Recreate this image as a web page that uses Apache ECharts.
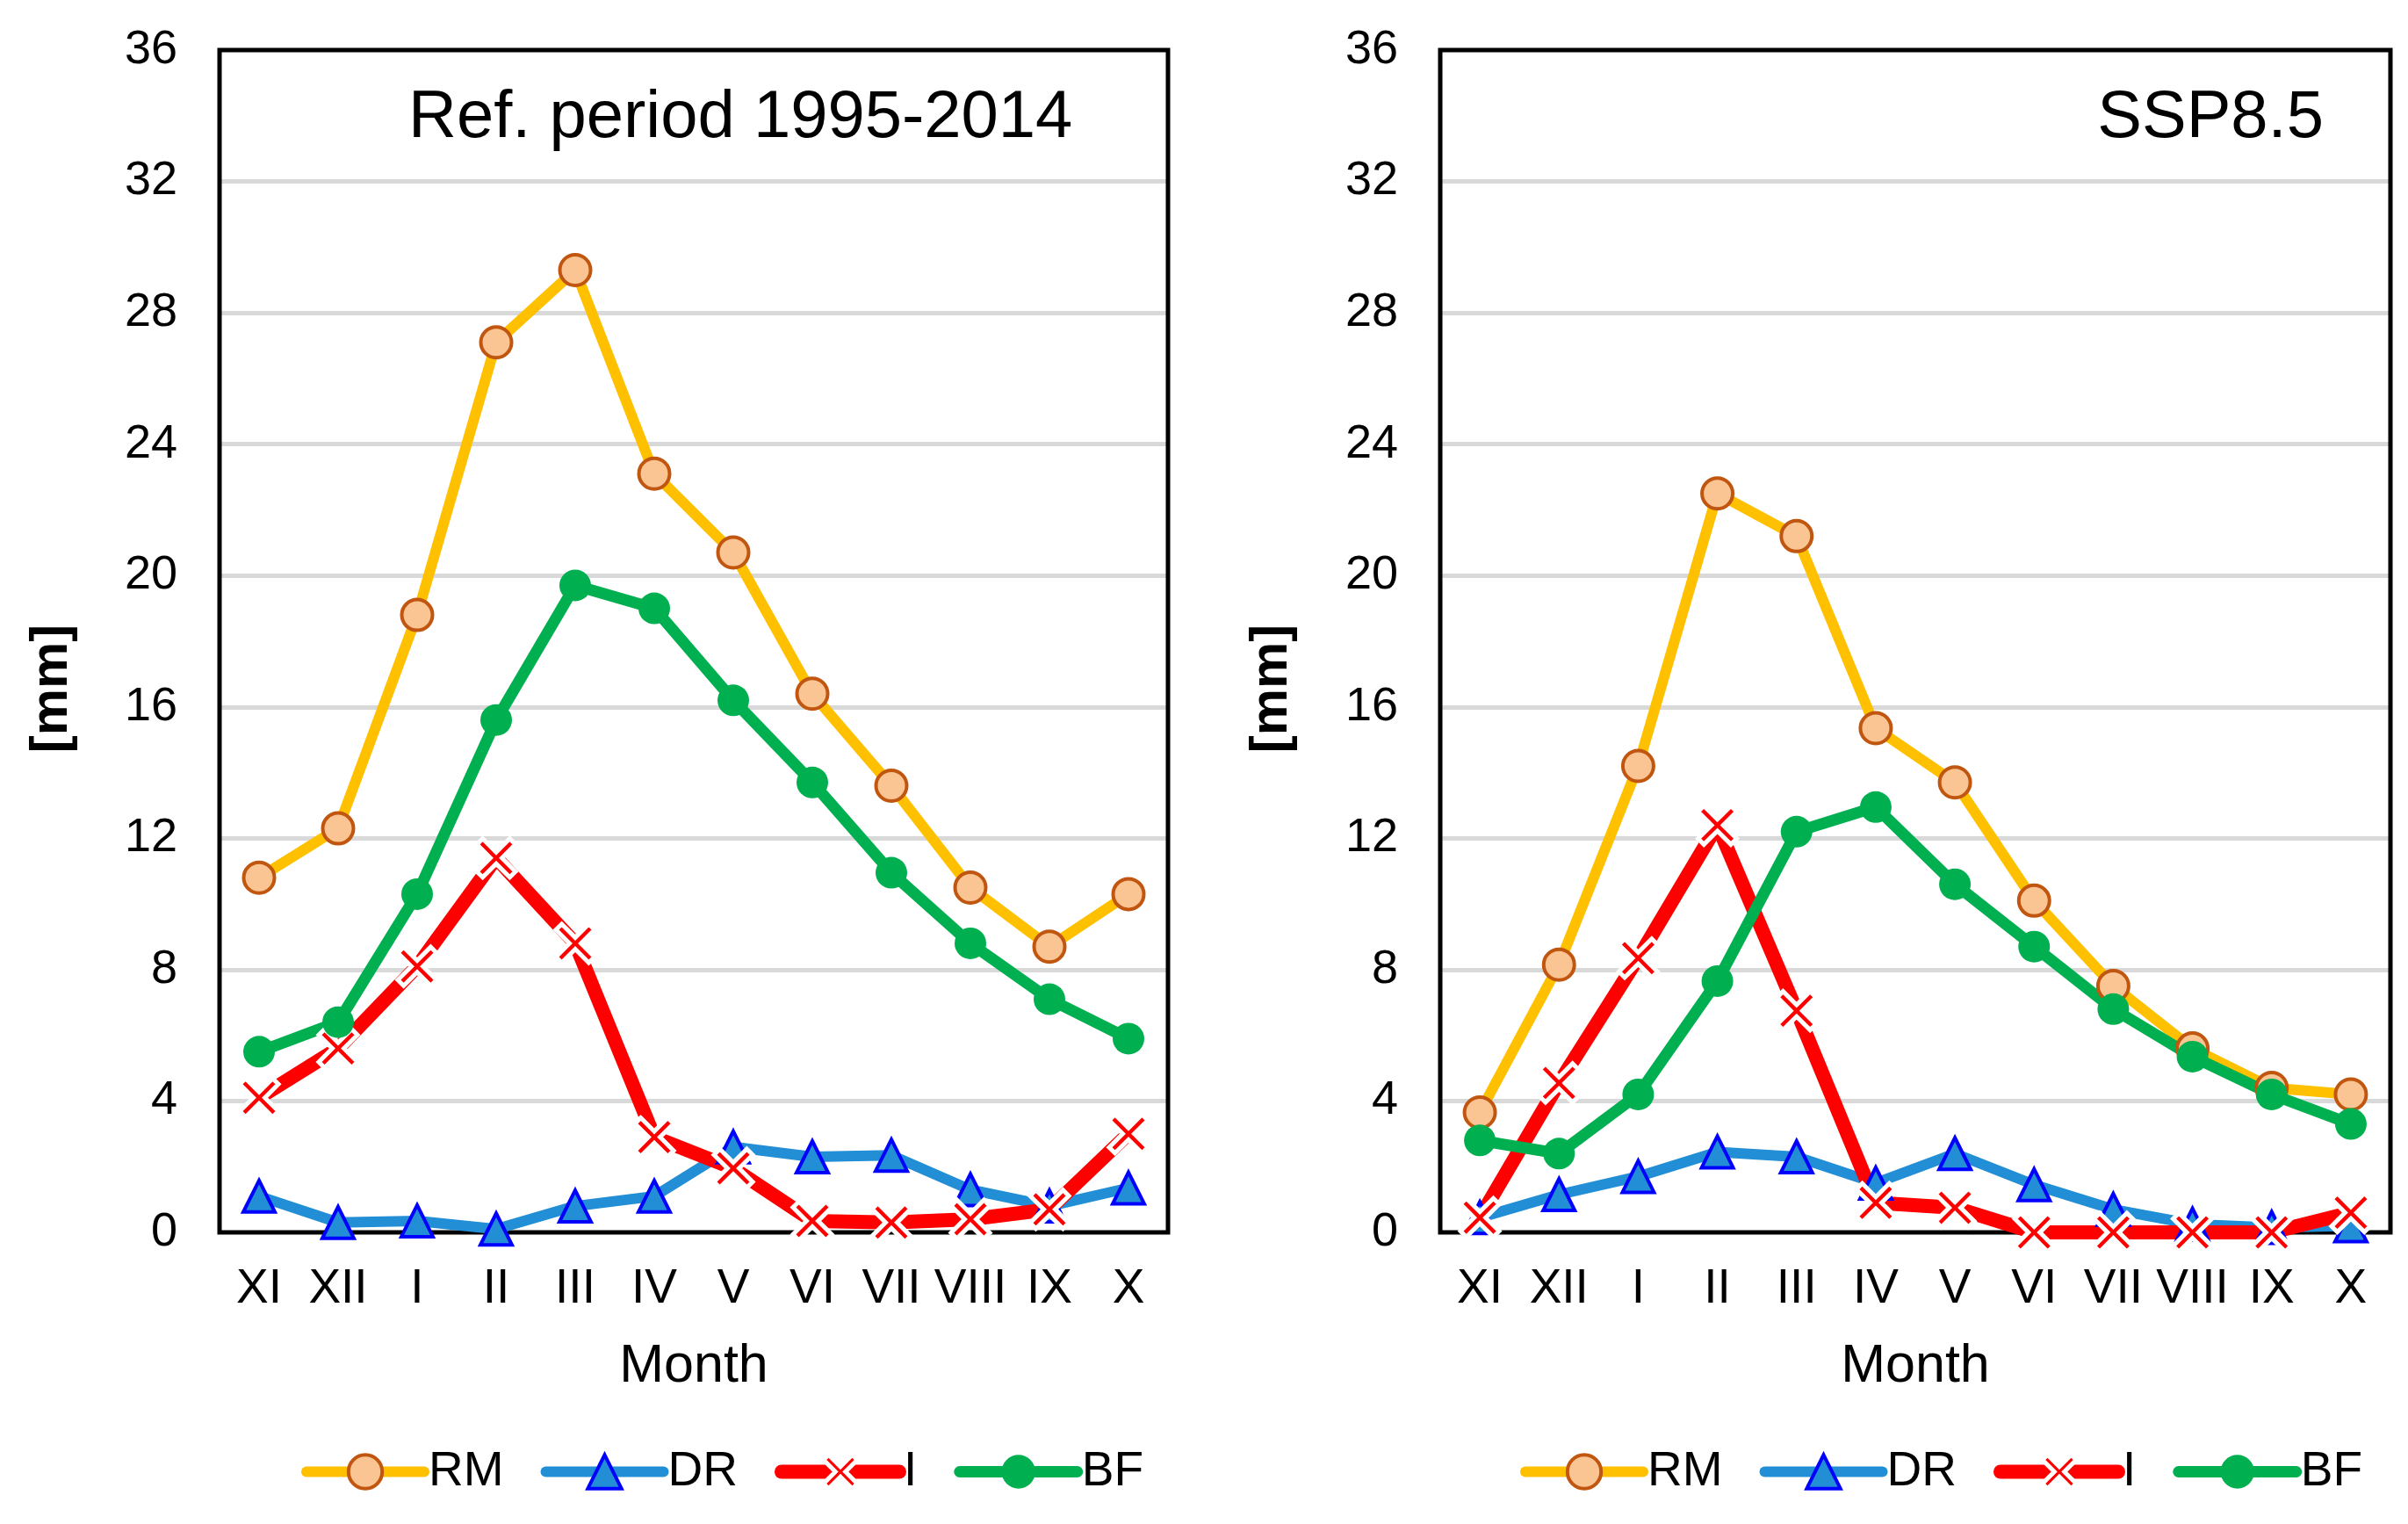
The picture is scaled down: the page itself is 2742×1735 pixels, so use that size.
<!DOCTYPE html>
<html>
<head>
<meta charset="utf-8">
<script src="https://cdn.jsdelivr.net/npm/echarts@6/dist/echarts.min.js"></script>
<style>
html, body { margin: 0; padding: 0; background: #fff; }
#chart { width: 2742px; height: 1735px; }
</style>
</head>
<body>
<div id="chart"></div>
<script>
const months = ['XI', 'XII', 'I', 'II', 'III', 'IV', 'V', 'VI', 'VII', 'VIII', 'IX', 'X'];
const seriesNames = ['RM', 'DR', 'I', 'BF'];

// Reference period 1995-2014
const refRM = [10.8, 12.3, 18.8, 27.1, 29.3, 23.1, 20.7, 16.4, 13.6, 10.5, 8.7, 10.3];
const refDR = [1.1, 0.3, 0.35, 0.1, 0.8, 1.1, 2.6, 2.3, 2.35, 1.3, 0.8, 1.35];
const refI  = [4.1, 5.6, 8.1, 11.4, 8.8, 2.9, 1.95, 0.35, 0.3, 0.4, 0.7, 3.0];
const refBF = [5.5, 6.4, 10.3, 15.6, 19.7, 19.0, 16.2, 13.7, 10.95, 8.8, 7.1, 5.9];

// SSP8.5
const sspRM = [3.65, 8.15, 14.2, 22.5, 21.2, 15.35, 13.7, 10.1, 7.5, 5.6, 4.4, 4.2];
const sspDR = [0.45, 1.15, 1.7, 2.45, 2.3, 1.5, 2.4, 1.45, 0.7, 0.25, 0.15, 0.2];
const sspI  = [0.45, 4.55, 8.35, 12.4, 6.75, 0.9, 0.75, 0, 0, 0, 0, 0.6];
const sspBF = [2.8, 2.4, 4.2, 7.65, 12.2, 12.95, 10.6, 8.7, 6.8, 5.35, 4.2, 3.3];

const yMin = 0, yMax = 36, yStep = 4;
const panelTitles = ['Ref. period 1995-2014', 'SSP8.5'];
const yName = '[mm]';
const xName = 'Month';

const FONT = '"Liberation Sans", Arial, sans-serif';
const xSymbol = 'path://M0,15 L15,0 L50,35 L85,0 L100,15 L65,50 L100,85 L85,100 L50,65 L15,100 L0,85 L35,50 Z';

const styles = {
  RM: { color: '#FFC000', width: 12, symbol: 'circle', size: 35,
        item: { color: '#FBC593', borderColor: '#C0560F', borderWidth: 4 } },
  DR: { color: '#228ED6', width: 12, symbol: 'triangle', size: 36,
        item: { color: '#228ED6', borderColor: '#0000FF', borderWidth: 4 } },
  I:  { color: '#FF0000', width: 16, symbol: xSymbol, size: 44,
        item: { color: '#FF0000', borderColor: '#FFFFFF', borderWidth: 5 } },
  BF: { color: '#00B050', width: 13, symbol: 'circle', size: 36,
        item: { color: '#00B050', borderWidth: 0 } }
};

const panelData = [
  { RM: refRM, DR: refDR, I: refI, BF: refBF },
  { RM: sspRM, DR: sspDR, I: sspI, BF: sspBF }
];

const grids = [
  { left: 250, top: 57, width: 1080, height: 1346 },
  { left: 1640, top: 57, width: 1082, height: 1346 }
];

const series = [];
panelData.forEach((pd, gi) => {
  seriesNames.forEach(n => {
    const s = styles[n];
    series.push({
      name: n, type: 'line', xAxisIndex: gi, yAxisIndex: gi,
      data: pd[n], clip: false,
      symbol: s.symbol, symbolSize: s.size, showAllSymbol: true,
      lineStyle: { color: s.color, width: s.width, cap: 'round', join: 'round' },
      itemStyle: Object.assign({}, s.item),
      emphasis: { disabled: true },
      animation: false
    });
  });
});

const legendData = seriesNames.map(n => ({
  name: n,
  lineStyle: { color: styles[n].color, width: styles[n].width, cap: 'round' },
  itemStyle: Object.assign({}, styles[n].item)
}));

const legendCommon = {
  top: 1648, itemWidth: 134, itemHeight: 48, itemGap: 42, padding: 0,
  textStyle: { fontSize: 55, color: '#000', fontFamily: FONT },
  data: legendData, selectedMode: false
};

const option = {
  backgroundColor: '#fff',
  animation: false,
  grid: grids.map(g => Object.assign({ show: true, borderColor: '#000', borderWidth: 5, backgroundColor: 'transparent', z: 3 }, g)),
  xAxis: grids.map((g, i) => ({
    type: 'category', gridIndex: i, data: months, boundaryGap: true,
    axisLine: { show: false }, axisTick: { show: false },
    axisLabel: { interval: 0, fontSize: 55, color: '#000', fontFamily: FONT, margin: 37 },
    name: xName, nameLocation: 'middle', nameGap: 123,
    nameTextStyle: { fontSize: 61, color: '#000', fontFamily: FONT }
  })),
  yAxis: grids.map((g, i) => ({
    type: 'value', gridIndex: i, min: yMin, max: yMax, interval: yStep,
    axisLine: { show: false }, axisTick: { show: false },
    axisLabel: { fontSize: 54, color: '#000', fontFamily: FONT, margin: 48 },
    splitLine: { show: true, showMinLine: false, showMaxLine: false, lineStyle: { color: '#D9D9D9', width: 5 } }
  })),
  legend: [
    Object.assign({ left: 343 }, legendCommon),
    Object.assign({ left: 1731 }, legendCommon)
  ],
  graphic: [
    { type: 'text', x: 59, y: 784, rotation: Math.PI / 2,
      style: { text: yName, font: 'bold 60px ' + FONT, fill: '#000', align: 'center', verticalAlign: 'middle' } },
    { type: 'text', x: 1448, y: 784, rotation: Math.PI / 2,
      style: { text: yName, font: 'bold 60px ' + FONT, fill: '#000', align: 'center', verticalAlign: 'middle' } },
    { type: 'text', x: 465, y: 135,
      style: { text: panelTitles[0], font: '76px ' + FONT, fill: '#000', align: 'left', verticalAlign: 'middle' } },
    { type: 'text', x: 2646, y: 135,
      style: { text: panelTitles[1], font: '76px ' + FONT, fill: '#000', align: 'right', verticalAlign: 'middle' } }
  ],
  series: series
};

const chart = echarts.init(document.getElementById('chart'), null, { renderer: 'canvas' });
chart.setOption(option);
</script>
</body>
</html>
